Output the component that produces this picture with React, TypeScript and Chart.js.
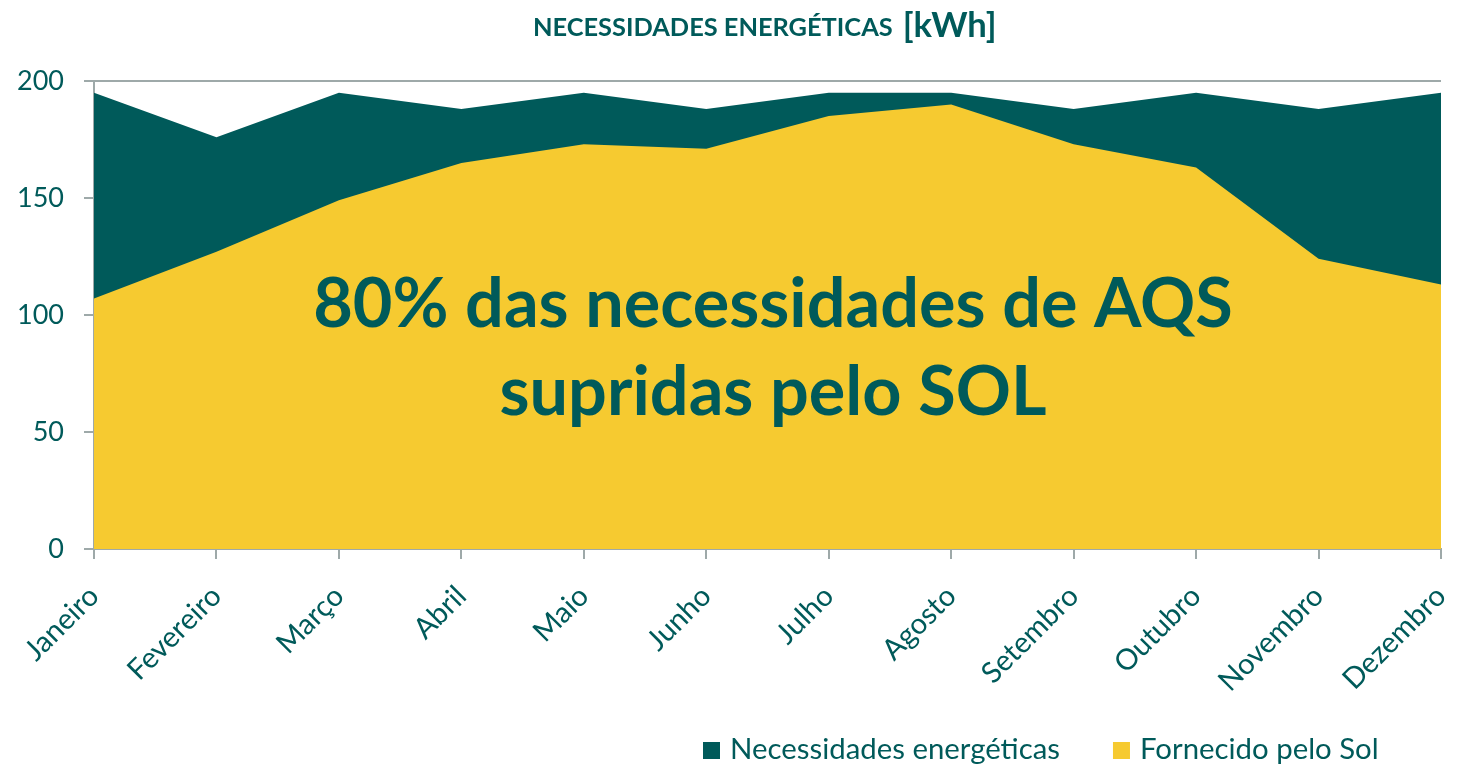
import React, { useEffect, useRef } from "react";
import { Chart, registerables } from "chart.js";

Chart.register(...registerables);

const months = ["Janeiro", "Fevereiro", "Março", "Abril", "Maio", "Junho", "Julho", "Agosto", "Setembro", "Outubro", "Novembro", "Dezembro"];
const necessidades = [195, 176, 195, 188, 195, 188, 195, 195, 188, 195, 188, 195];
const fornecidoSol = [107, 127, 149, 165, 173, 171, 185, 190, 173, 163, 124, 113];
const yTicks = [0, 50, 100, 150, 200];
const seriesNames = ["Necessidades energéticas", "Fornecido pelo Sol"];
const titleMain = "NECESSIDADES ENERGÉTICAS";
const titleUnit = "[kWh]";
const noteLines = ["80% das necessidades de AQS", "supridas pelo SOL"];

const TEAL = "#005a5a";
const YELLOW = "#f6ca30";
const GREY = "#9ea9a9";
const FONT = "Lato, 'Open Sans', sans-serif";

function fitSize(ctx: CanvasRenderingContext2D, text: string, weight: string, target: number) {
  ctx.font = `${weight} 100px ${FONT}`;
  const w = ctx.measureText(text).width;
  return (100 * target) / w;
}

const overlayPlugin = {
  id: "overlay",
  afterDraw(chart: any) {
    const ctx: CanvasRenderingContext2D = chart.ctx;
    ctx.save();
    ctx.fillStyle = TEAL;
    ctx.textBaseline = "alphabetic";
    ctx.textAlign = "left";

    // Title
    const s1 = fitSize(ctx, titleMain, "bold", 360);
    const s2 = fitSize(ctx, titleUnit, "bold", 94);
    ctx.font = `bold ${s1}px ${FONT}`;
    const w1 = ctx.measureText(titleMain).width;
    const gap = 10;
    const startX = 533;
    ctx.fillText(titleMain, startX, 36);
    ctx.font = `bold ${s2}px ${FONT}`;
    ctx.fillText(titleUnit, startX + w1 + gap, 37);

    // Note
    const ns = fitSize(ctx, noteLines[0], "bold", 920);
    ctx.font = `bold ${ns}px ${FONT}`;
    ctx.textAlign = "center";
    const cx = 773;
    ctx.fillText(noteLines[0], cx, 327);
    ctx.fillText(noteLines[1], cx, 415);

    // Legend
    ctx.textAlign = "left";
    const ls = fitSize(ctx, seriesNames[0], "normal", 330);
    ctx.font = `normal ${ls}px ${FONT}`;
    const colors = [TEAL, YELLOW];
    let x = 703;
    const y = 759;
    seriesNames.forEach((name, i) => {
      ctx.fillStyle = colors[i];
      ctx.fillRect(x, 742, 17, 17);
      ctx.fillStyle = TEAL;
      ctx.fillText(name, x + 27, y);
      x += 27 + ctx.measureText(name).width + 53;
    });
    ctx.restore();
  },
};

export default function App() {
  const ref = useRef<HTMLCanvasElement>(null);
  useEffect(() => {
    document.body.style.margin = "0";
    const canvas = ref.current!;
    const chart = new Chart(canvas, {
      type: "line",
      data: {
        labels: months,
        datasets: [
          {
            label: seriesNames[0],
            data: necessidades,
            backgroundColor: TEAL,
            borderColor: TEAL,
            borderWidth: 0,
            pointRadius: 0,
            fill: "origin",
            tension: 0,
            order: 2,
          },
          {
            label: seriesNames[1],
            data: fornecidoSol,
            backgroundColor: YELLOW,
            borderColor: YELLOW,
            borderWidth: 0,
            pointRadius: 0,
            fill: "origin",
            tension: 0,
            order: 1,
          },
        ],
      },
      options: {
        responsive: false,
        animation: false,
        devicePixelRatio: 1,
        layout: { padding: { top: 81, right: 20, left: 0, bottom: 0 } },
        plugins: {
          legend: { display: false },
          title: { display: false },
          tooltip: { enabled: false },
        },
        scales: {
          x: {
            afterFit: (s: any) => {
              s.height = 221;
              s.paddingRight = 0;
              s.paddingLeft = 0;
            },
            grid: { drawOnChartArea: false, drawTicks: true, tickLength: 10, color: GREY, lineWidth: 2 },
            border: { display: true, color: GREY, width: 2 },
            ticks: {
              autoSkip: false,
              maxRotation: 45,
              minRotation: 45,
              padding: 20,
              color: TEAL,
              font: { family: FONT, size: 29 },
            },
          },
          y: {
            min: 0,
            max: 200,
            afterFit: (s: any) => {
              s.width = 94;
            },
            afterBuildTicks: (s: any) => {
              s.ticks = yTicks.map((v) => ({ value: v }));
            },
            grid: { drawOnChartArea: true, drawTicks: true, tickLength: 10, color: GREY, lineWidth: 2 },
            border: { display: true, color: GREY, width: 2 },
            ticks: {
              padding: 20,
              color: TEAL,
              font: { family: FONT, size: 27 },
            },
          },
        },
      },
      plugins: [overlayPlugin],
    });
    return () => chart.destroy();
  }, []);
  return <canvas ref={ref} width={1461} height={770} style={{ display: "block", width: 1461, height: 770 }} />;
}
